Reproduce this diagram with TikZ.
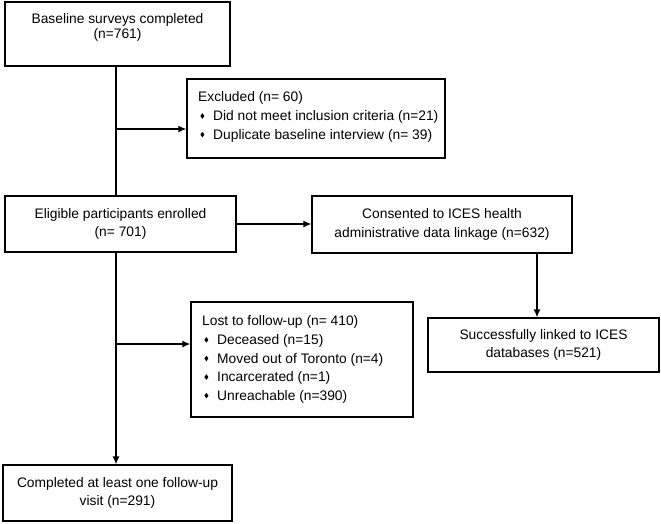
\documentclass[tikz,border=0pt]{standalone}
\usepackage{fontspec}
\setmainfont{Liberation Sans}
\usetikzlibrary{arrows.meta}
\newcommand\bulmark{\makebox[15pt][l]{\hspace{2.2pt}\tikz[baseline=0pt]\fill (0pt,4.6pt)--(2pt,7.4pt)--(4pt,4.6pt)--(2pt,1.8pt)--cycle;}}
\tikzset{
  box/.style={draw, line width=1.3pt, inner sep=0pt},
  txt/.style={font=\fontsize{13.8}{18.6}\selectfont, align=center, inner sep=0pt},
  lst/.style={font=\fontsize{13.8}{18.6}\selectfont, align=left, inner sep=0pt, anchor=west},
  ln/.style={line width=1.3pt},
  arr/.style={line width=1.3pt, -{Latex[length=8pt,width=7pt]}}
}
\begin{document}
\begin{tikzpicture}[x=1pt,y=-1pt]
\useasboundingbox (0,0) rectangle (661,523);
% boxes
\node[box, minimum width=225, minimum height=64] (base) at (117.5,34) {};
\node[txt, font=\fontsize{13.8}{15}\selectfont] (baset) at (117.5,27) {Baseline surveys completed\\(n=761)};
\node[box, minimum width=258, minimum height=79] (excl) at (316,118.5) {};
\node[lst] (exclt) at (198,117)
  {Excluded (n= 60)\\\bulmark Did not meet inclusion criteria (n=21)\\\bulmark Duplicate baseline interview (n= 39)};
\node[box, txt, minimum width=231, minimum height=56] (elig) at (120.5,224) {Eligible participants enrolled\\(n= 701)};
\node[box, txt, minimum width=260, minimum height=57] (cons) at (442,224.5) {Consented to ICES health\\administrative data linkage (n=632)};
\node[box, txt, minimum width=231, minimum height=54] (succ) at (543.5,345) {Successfully linked to ICES\\databases (n=521)};
\node[box, minimum width=222, minimum height=115] (lost) at (302,359.5) {};
\node[lst] (lostt) at (202,359.5)
  {Lost to follow-up (n= 410)\\\bulmark Deceased (n=15)\\\bulmark Moved out of Toronto (n=4)\\\bulmark Incarcerated (n=1)\\\bulmark Unreachable (n=390)};
\node[box, txt, minimum width=229, minimum height=56] (comp) at (117.5,493) {Completed at least one follow-up\\visit (n=291)};
% junctions
\coordinate (j1) at (116,129);
\coordinate (j2) at (116,344);
\coordinate (j3) at (537,253);
% connectors
\draw[ln] (base.south -| j1) -- (elig.north -| j1);
\draw[arr] (j1) -- (j1 -| excl.west);
\draw[arr] (elig.south -| j1) -- (comp.north -| j1);
\draw[arr] (j2) -- (j2 -| lost.west);
\draw[arr] (elig.east) -- (elig.east -| cons.west);
\draw[arr] (j3) -- (j3 |- succ.north);
\end{tikzpicture}
\end{document}
